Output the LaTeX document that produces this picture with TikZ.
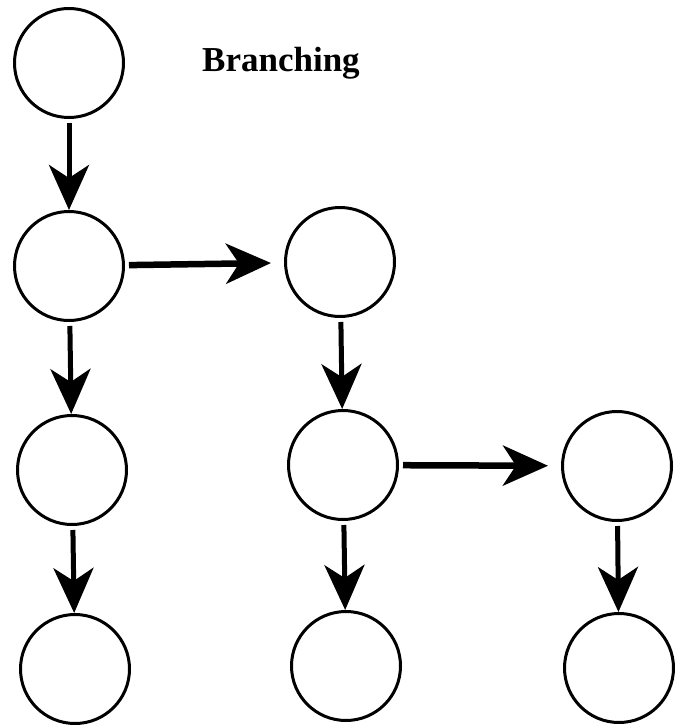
\documentclass[tikz,border=0pt]{standalone}
\usepackage{fontspec}
\setmainfont{Liberation Serif}
\usetikzlibrary{arrows.meta}
\begin{document}
\begin{tikzpicture}[x=1pt, y=-1pt,
  state/.style={circle, draw=black, line width=3pt, minimum size=109pt, inner sep=0pt},
  flow/.style={line width=5pt, -{Stealth[length=45pt, width=40pt, inset=13pt]}, shorten <=4pt},
  side/.style={line width=6.5pt, shorten >=13pt}]
  \useasboundingbox (0,0) rectangle (674,727);
  % title
  \node[anchor=base west, inner sep=0pt, font=\fontsize{35}{40}\selectfont\bfseries] (title) at (202,72) {Branching};
  % states
  \node[state] (c1) at (69,63) {};
  \node[state] (c2) at (69,266) {};
  \node[state] (c3) at (72,470) {};
  \node[state] (c4) at (75,669) {};
  \node[state] (c5) at (340,262) {};
  \node[state] (c6) at (343,465) {};
  \node[state] (c7) at (346,666) {};
  \node[state] (c8) at (617,466) {};
  \node[state] (c9) at (619,668) {};
  % transitions
  \draw[flow] (c1) -- (c2);
  \draw[flow] (c2) -- (c3);
  \draw[flow] (c3) -- (c4);
  \draw[flow, side] (c2) -- (c5);
  \draw[flow] (c5) -- (c6);
  \draw[flow] (c6) -- (c7);
  \draw[flow, side] (c6) -- (c8);
  \draw[flow] (c8) -- (c9);
\end{tikzpicture}
\end{document}
